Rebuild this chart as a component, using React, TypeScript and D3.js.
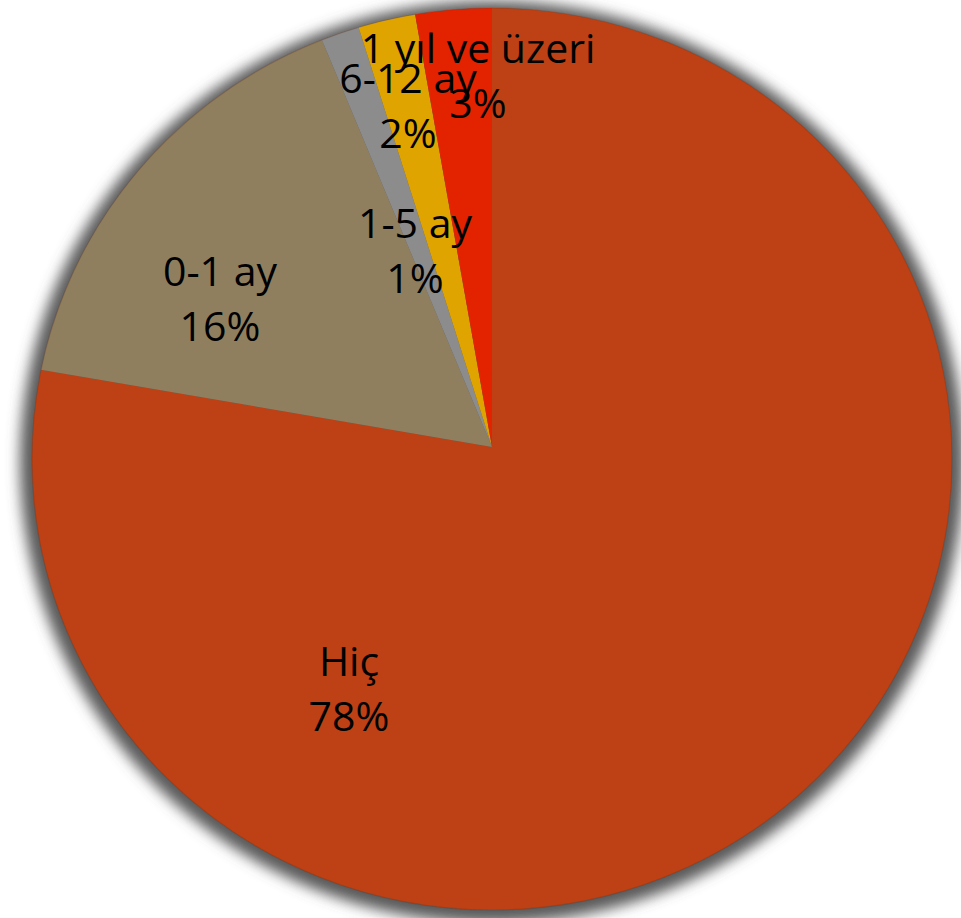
import { useEffect, useRef } from 'react'
import * as d3 from 'd3'

// data
const categories = ['Hiç', '0-1 ay', '1-5 ay', '6-12 ay', '1 yıl ve üzeri']
const values = [77.7, 16.0, 1.4, 2.1, 2.8]
const colors = ['#BD4114', '#8F7F5F', '#8C8C8C', '#E0A400', '#E32200']

// label anchors (center of the two-line label), set by hand like the original
const labelAnchors: [number, number][] = [
  [349, 683],
  [220, 293],
  [415, 245],
  [408, 100],
  [478, 70],
]

export default function App() {
  const chartRef = useRef<SVGSVGElement>(null)

  useEffect(() => {
    if (!chartRef.current) return

    const svg = d3.select(chartRef.current)
    svg.selectAll('*').remove()

    const width = 961
    const height = 918
    const cx = 492
    const cy = 447
    const ellipse = { cx: 492, cy: 459, rx: 460, ry: 451 }

    const defs = svg.append('defs')
    defs.append('filter')
      .attr('id', 'shadow')
      .attr('x', '-10%').attr('y', '-10%')
      .attr('width', '120%').attr('height', '120%')
      .append('feGaussianBlur')
      .attr('stdDeviation', 7)
    defs.append('clipPath')
      .attr('id', 'pieClip')
      .append('ellipse')
      .attr('cx', ellipse.cx).attr('cy', ellipse.cy)
      .attr('rx', ellipse.rx).attr('ry', ellipse.ry)

    svg.attr('width', width).attr('height', height)

    // soft shadow round the pie
    svg.append('ellipse')
      .attr('cx', ellipse.cx).attr('cy', ellipse.cy + 3)
      .attr('rx', ellipse.rx + 12).attr('ry', ellipse.ry + 10)
      .attr('fill', '#5a5a5a')
      .attr('filter', 'url(#shadow)')

    const pie = d3.pie<number>().value(d => d).sort(null)
    const arc = d3.arc<d3.PieArcDatum<number>>().innerRadius(0).outerRadius(700)
    const pieData = pie(values)

    const g = svg.append('g').attr('clip-path', 'url(#pieClip)')
      .append('g')
      .attr('transform', `translate(${cx},${cy})`)

    g.selectAll('path')
      .data(pieData)
      .enter()
      .append('path')
      .attr('d', arc)
      .attr('fill', (d, i) => colors[i])

    svg.append('ellipse')
      .attr('cx', ellipse.cx).attr('cy', ellipse.cy)
      .attr('rx', ellipse.rx).attr('ry', ellipse.ry)
      .attr('fill', 'none')
      .attr('stroke', '#6e2308')
      .attr('stroke-opacity', 0.18)
      .attr('stroke-width', 1.2)

    const labels = svg.append('g')
      .style('font-family', '"Open Sans", "Noto Sans", sans-serif')
      .style('font-size', '41px')
      .attr('fill', '#000')
      .attr('text-anchor', 'middle')

    pieData.forEach((d, i) => {
      const [x, y] = labelAnchors[i]
      const t = labels.append('text').attr('x', x).attr('y', y)
      t.append('tspan').attr('x', x).attr('dy', '-0.18em').text(categories[i])
      t.append('tspan').attr('x', x).attr('dy', '1.36em').text(`${Math.round(d.value)}%`)
    })
  }, [])

  return (
    <svg
      ref={chartRef}
      width="961"
      height="918"
      style={{ position: 'absolute', left: 0, top: 0, background: '#fff' }}
    ></svg>
  )
}
